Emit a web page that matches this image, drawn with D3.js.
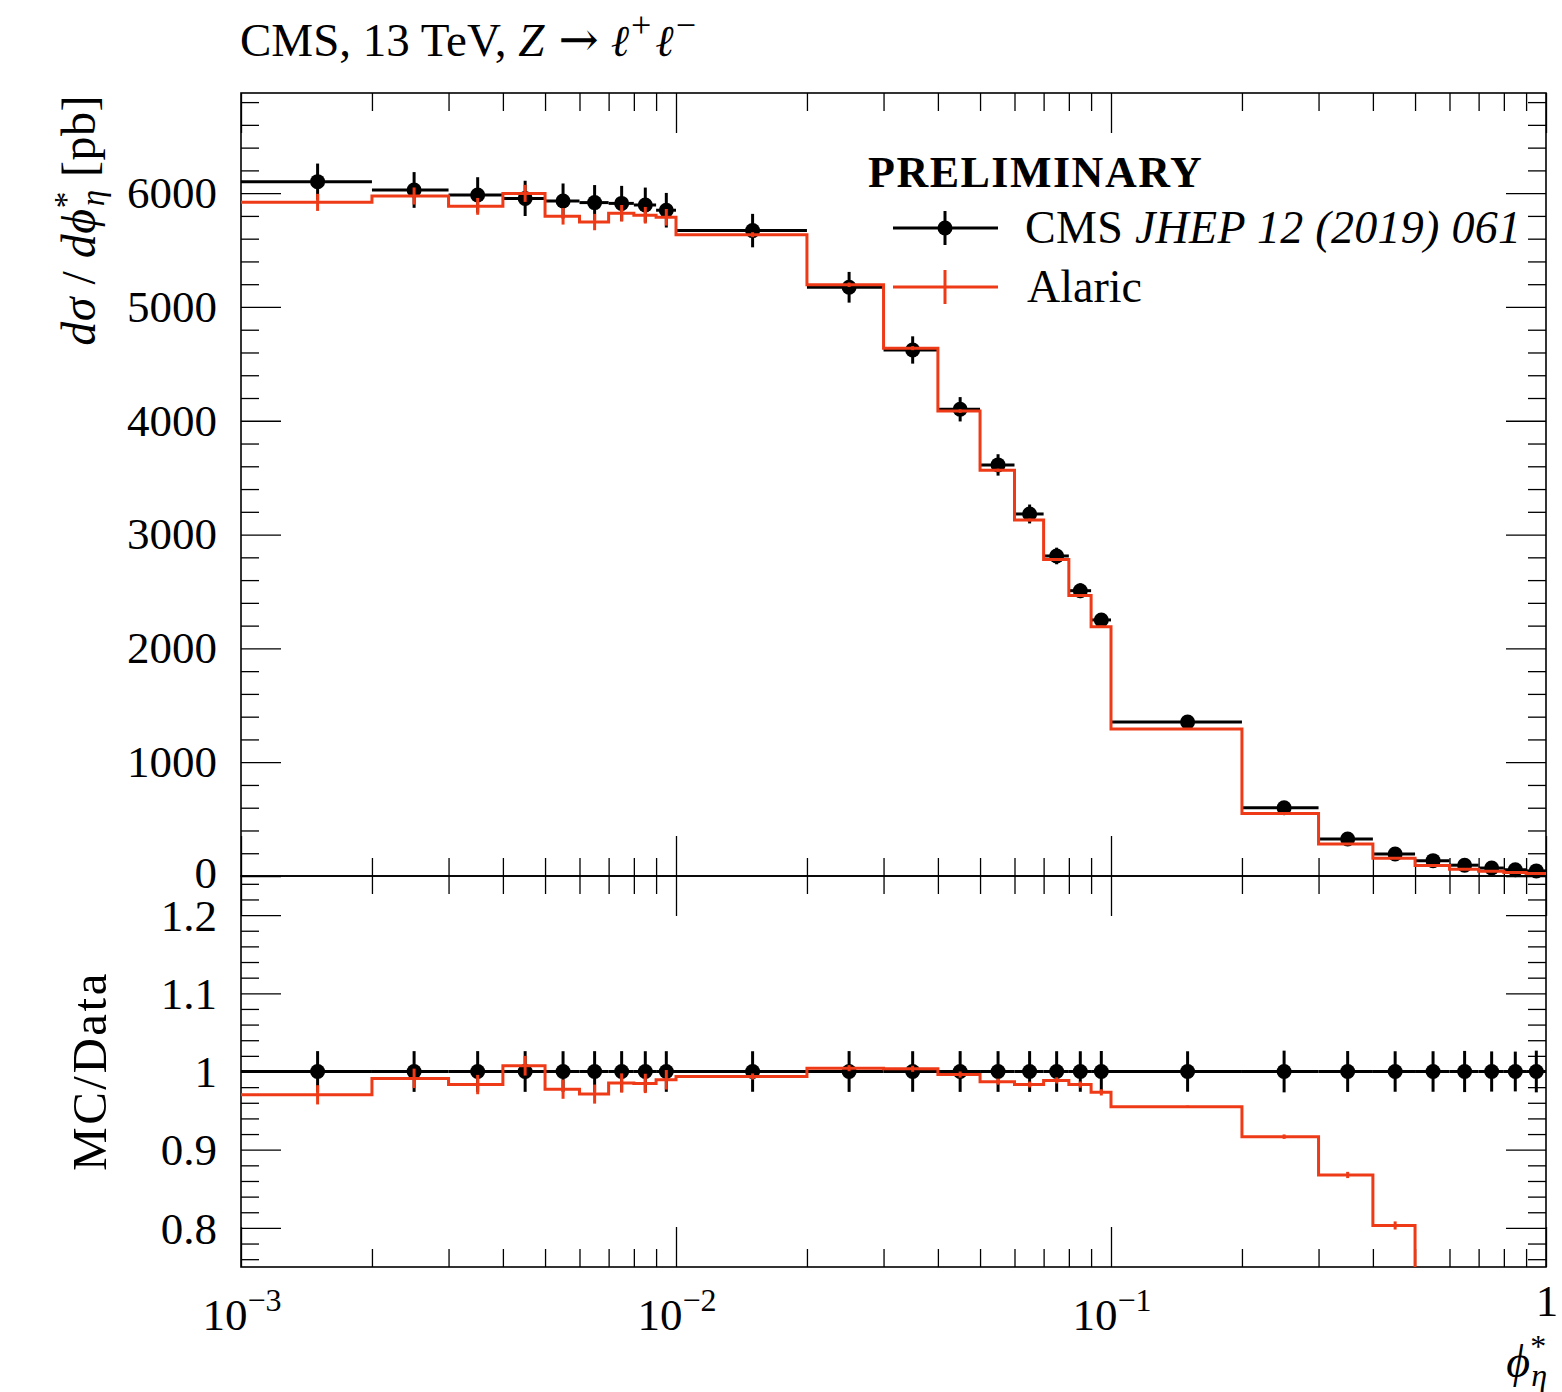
<!DOCTYPE html>
<html>
<head>
<meta charset="utf-8">
<script src="https://cdn.jsdelivr.net/npm/d3@7"></script>
<style>
  html, body { margin: 0; padding: 0; background: #fff; }
  svg text { font-family: "Liberation Serif", "DejaVu Serif", serif; fill: #000; }
</style>
</head>
<body>
<svg id="chart" width="1562" height="1392"></svg>
<script>
// phi*_eta bin edges
const binEdges = [0.001, 0.002, 0.003, 0.004, 0.005, 0.006, 0.007, 0.008, 0.009, 0.01,
                  0.02, 0.03, 0.04, 0.05, 0.06, 0.07, 0.08, 0.09, 0.1,
                  0.2, 0.3, 0.4, 0.5, 0.6, 0.7, 0.8, 0.9, 1.0];

// CMS measurement, dsigma/dphi* [pb], and its uncertainty
const cmsXsec    = [6101, 6028, 5984, 5954, 5931, 5917, 5910, 5896, 5850, 5671,
                    5173, 4622, 4101, 3612, 3181, 2812, 2507, 2250, 1353,
                    600, 325, 193, 135, 95, 70, 55, 45];
const cmsXsecErr = [159, 157, 156, 155, 154, 154, 154, 153, 152, 147,
                    135, 120, 107, 94, 83, 73, 65, 59, 35,
                    16, 8.5, 5, 3.5, 2.5, 1.8, 1.4, 1.2];

// Alaric prediction and its statistical uncertainty
const alaricXsec    = [5919, 5975, 5884, 5998, 5797, 5746, 5823, 5806, 5788, 5635,
                       5195, 4638, 4085, 3565, 3128, 2780, 2465, 2190, 1292,
                       550, 282, 155, 92, 60, 41, 30, 22];
const alaricXsecErr = [75, 75, 74, 75, 73, 72, 73, 73, 73, 22,
                       20, 18, 16, 14, 12, 11, 10, 9, 2,
                       1.7, 1.3, 1, 0.8, 0.6, 0.5, 0.4, 0.3];

// axis ticks and labels
const yTicks = [0, 1000, 2000, 3000, 4000, 5000, 6000];
const yTickLabels = ["0", "1000", "2000", "3000", "4000", "5000", "6000"];
const ratioTicks = [0.8, 0.9, 1, 1.1, 1.2];
const ratioTickLabels = ["0.8", "0.9", "1", "1.1", "1.2"];
const xDecades = [0.001, 0.01, 0.1, 1];
const xDecadeExp = ["−3", "−2", "−1", ""];

const RED = "#ee3a16";

// layout
const L = 241, R = 1546, T1 = 93, B1 = 876, B2 = 1267;

const svg = d3.select("#chart");

const x = d3.scaleLog().domain([1e-3, 1]).range([L, R]);
const y1 = d3.scaleLinear().domain([0, 6880]).range([B1, T1]);
const y2 = d3.scaleLinear().domain([0.75, 1.25]).range([B2, B1]);

const bins = cmsXsec.map((v, i) => ({
  lo: binEdges[i], hi: binEdges[i + 1], mid: (binEdges[i] + binEdges[i + 1]) / 2,
  data: v, err: cmsXsecErr[i], mc: alaricXsec[i], mcErr: alaricXsecErr[i]
}));

// minor tick positions
const xMinor = [];
xDecades.slice(0, 3).forEach(d => { for (let k = 2; k <= 9; k++) xMinor.push(d * k); });
const yMinor = d3.range(200, 6880, 200).filter(v => v % 1000 !== 0);
const ratioMinor = d3.range(38, 63).map(v => v / 50).filter(v => Math.abs(v * 10 - Math.round(v * 10)) > 1e-6);

const TICK_MAJ = 40, TICK_MIN = 18;

function styleAxis(g) {
  g.select(".domain").remove();
  g.selectAll(".tick line").attr("stroke", "#000").attr("stroke-width", 1.3);
}

function addAxis(axisGen, tx, ty, values, size) {
  const g = svg.append("g").attr("transform", `translate(${tx},${ty})`)
    .call(axisGen.tickValues(values).tickSize(-size).tickFormat(""));
  styleAxis(g);
  g.selectAll("text").remove();
  return g;
}

// ---- tick marks, both panels ----
// upper panel y
addAxis(d3.axisLeft(y1), L, 0, yTicks, TICK_MAJ);
addAxis(d3.axisLeft(y1), L, 0, yMinor, TICK_MIN);
addAxis(d3.axisRight(y1), R, 0, yTicks, TICK_MAJ);
addAxis(d3.axisRight(y1), R, 0, yMinor, TICK_MIN);
// upper panel x
addAxis(d3.axisTop(x), 0, T1, xDecades, TICK_MAJ);
addAxis(d3.axisTop(x), 0, T1, xMinor, TICK_MIN);
addAxis(d3.axisBottom(x), 0, B1, xDecades, TICK_MAJ);
addAxis(d3.axisBottom(x), 0, B1, xMinor, TICK_MIN);
// ratio panel y
addAxis(d3.axisLeft(y2), L, 0, ratioTicks, TICK_MAJ);
addAxis(d3.axisLeft(y2), L, 0, ratioMinor, TICK_MIN);
addAxis(d3.axisRight(y2), R, 0, ratioTicks, TICK_MAJ);
addAxis(d3.axisRight(y2), R, 0, ratioMinor, TICK_MIN);
// ratio panel x
addAxis(d3.axisTop(x), 0, B1, xDecades, TICK_MAJ);
addAxis(d3.axisTop(x), 0, B1, xMinor, TICK_MIN);
addAxis(d3.axisBottom(x), 0, B2, xDecades, TICK_MAJ);
addAxis(d3.axisBottom(x), 0, B2, xMinor, TICK_MIN);

// ---- tick labels ----
const FS = 45;
svg.append("g").selectAll("text").data(yTicks).join("text")
  .attr("x", L - 24).attr("y", d => y1(d)).attr("dy", d => d === 0 ? "0.26em" : "0.33em")
  .attr("text-anchor", "end").attr("font-size", FS)
  .text((d, i) => yTickLabels[i]);

svg.append("g").selectAll("text").data(ratioTicks).join("text")
  .attr("x", L - 24).attr("y", d => y2(d)).attr("dy", "0.35em")
  .attr("text-anchor", "end").attr("font-size", FS)
  .text((d, i) => ratioTickLabels[i]);

const xl = svg.append("g").selectAll("text").data(xDecades).join("text")
  .attr("x", d => x(d) + 1).attr("y", 1330)
  .attr("text-anchor", "middle").attr("font-size", FS);
xl.each(function (d, i) {
  const t = d3.select(this);
  if (xDecadeExp[i]) {
    t.append("tspan").text("10");
    t.append("tspan").attr("dy", -19).attr("font-size", 32).text(xDecadeExp[i]);
  } else {
    t.attr("y", 1316).append("tspan").text("1");
  }
});

// ---- frames ----
svg.append("rect").attr("x", L).attr("y", T1).attr("width", R - L).attr("height", B1 - T1)
  .attr("fill", "none").attr("stroke", "#000").attr("stroke-width", 1.6);
svg.append("rect").attr("x", L).attr("y", B1).attr("width", R - L).attr("height", B2 - B1)
  .attr("fill", "none").attr("stroke", "#000").attr("stroke-width", 1.6);

// ---- upper panel: cross section ----
const upper = svg.append("g");

upper.selectAll("line.xerr").data(bins).join("line").attr("class", "xerr")
  .attr("x1", d => x(d.lo)).attr("x2", d => x(d.hi))
  .attr("y1", d => y1(d.data)).attr("y2", d => y1(d.data))
  .attr("stroke", "#000").attr("stroke-width", 3);
upper.selectAll("line.yerr").data(bins).join("line").attr("class", "yerr")
  .attr("x1", d => x(d.mid)).attr("x2", d => x(d.mid))
  .attr("y1", d => y1(d.data - d.err)).attr("y2", d => y1(d.data + d.err))
  .attr("stroke", "#000").attr("stroke-width", 3);
upper.selectAll("circle").data(bins).join("circle")
  .attr("cx", d => x(d.mid)).attr("cy", d => y1(d.data)).attr("r", 7.5).attr("fill", "#000");

const stepLine = d3.line().curve(d3.curveStepAfter);
const mcPts = bins.map(d => [x(d.lo), y1(d.mc)]);
mcPts.push([x(bins[bins.length - 1].hi), y1(bins[bins.length - 1].mc)]);
upper.append("path").attr("d", stepLine(mcPts))
  .attr("fill", "none").attr("stroke", RED).attr("stroke-width", 3);
upper.selectAll("line.mcerr").data(bins).join("line").attr("class", "mcerr")
  .attr("x1", d => x(d.mid)).attr("x2", d => x(d.mid))
  .attr("y1", d => y1(d.mc - d.mcErr)).attr("y2", d => y1(d.mc + d.mcErr))
  .attr("stroke", RED).attr("stroke-width", 3);

// ---- lower panel: MC / Data ----
svg.append("clipPath").attr("id", "ratioClip").append("rect")
  .attr("x", L).attr("y", B1).attr("width", R - L).attr("height", B2 - B1);
const rat = svg.append("g").attr("clip-path", "url(#ratioClip)");

rat.selectAll("line.xerr").data(bins).join("line").attr("class", "xerr")
  .attr("x1", d => x(d.lo)).attr("x2", d => x(d.hi))
  .attr("y1", y2(1)).attr("y2", y2(1))
  .attr("stroke", "#000").attr("stroke-width", 3);
rat.selectAll("line.yerr").data(bins).join("line").attr("class", "yerr")
  .attr("x1", d => x(d.mid)).attr("x2", d => x(d.mid))
  .attr("y1", d => y2(1 - d.err / d.data)).attr("y2", d => y2(1 + d.err / d.data))
  .attr("stroke", "#000").attr("stroke-width", 3);
rat.selectAll("circle").data(bins).join("circle")
  .attr("cx", d => x(d.mid)).attr("cy", y2(1)).attr("r", 7.5).attr("fill", "#000");

const rPts = bins.map(d => [x(d.lo), y2(d.mc / d.data)]);
rPts.push([x(bins[bins.length - 1].hi), y2(bins[bins.length - 1].mc / bins[bins.length - 1].data)]);
rat.append("path").attr("d", stepLine(rPts))
  .attr("fill", "none").attr("stroke", RED).attr("stroke-width", 3);
rat.selectAll("line.mcerr").data(bins).join("line").attr("class", "mcerr")
  .attr("x1", d => x(d.mid)).attr("x2", d => x(d.mid))
  .attr("y1", d => y2((d.mc - d.mcErr) / d.data)).attr("y2", d => y2((d.mc + d.mcErr) / d.data))
  .attr("stroke", RED).attr("stroke-width", 3);

// ---- title ----
const title = svg.append("text").attr("x", L - 1).attr("y", 56).attr("font-size", 47);
title.append("tspan").text("CMS, 13 TeV, ");
title.append("tspan").attr("font-style", "italic").text("Z");
title.append("tspan").attr("dx", 14).attr("font-family", "DejaVu Serif").attr("font-size", 48).text("→");
title.append("tspan").attr("dx", 12).attr("font-family", "DejaVu Serif").attr("font-style", "italic")
  .attr("font-size", 44).text("ℓ");
title.append("tspan").attr("dy", -19).attr("dx", 2).attr("font-size", 36).text("+");
title.append("tspan").attr("dy", 19).attr("dx", 4).attr("font-family", "DejaVu Serif").attr("font-style", "italic")
  .attr("font-size", 44).text("ℓ");
title.append("tspan").attr("dy", -19).attr("dx", 2).attr("font-size", 36).text("−");

// ---- legend ----
svg.append("text").attr("x", 868).attr("y", 187).attr("font-size", 44)
  .attr("letter-spacing", 1.5).attr("font-weight", "bold").text("PRELIMINARY");

const leg = svg.append("g");
leg.append("line").attr("x1", 893).attr("x2", 998).attr("y1", 228).attr("y2", 228)
  .attr("stroke", "#000").attr("stroke-width", 3);
leg.append("line").attr("x1", 945).attr("x2", 945).attr("y1", 211).attr("y2", 245)
  .attr("stroke", "#000").attr("stroke-width", 3);
leg.append("circle").attr("cx", 945).attr("cy", 228).attr("r", 7.5).attr("fill", "#000");
const l1 = leg.append("text").attr("x", 1025).attr("y", 243).attr("font-size", 46)
  .attr("letter-spacing", 0.3);
l1.append("tspan").text("CMS ");
l1.append("tspan").attr("font-style", "italic").text("JHEP 12 (2019) 061");

leg.append("line").attr("x1", 893).attr("x2", 998).attr("y1", 287).attr("y2", 287)
  .attr("stroke", RED).attr("stroke-width", 3);
leg.append("line").attr("x1", 945).attr("x2", 945).attr("y1", 270).attr("y2", 304)
  .attr("stroke", RED).attr("stroke-width", 3);
leg.append("text").attr("x", 1027).attr("y", 302).attr("font-size", 46).text("Alaric");

// ---- axis titles ----
const yl = svg.append("text").attr("transform", "translate(95,95) rotate(-90)")
  .attr("text-anchor", "end").attr("font-size", 48).attr("letter-spacing", 0.5);
yl.append("tspan").attr("font-style", "italic").text("dσ");
yl.append("tspan").text(" / ");
yl.append("tspan").attr("font-style", "italic").text("dϕ");
yl.append("tspan").attr("dy", -18).attr("font-size", 33).text("*");
yl.append("tspan").attr("dx", -15).attr("dy", 27).attr("font-size", 33).attr("font-style", "italic").text("η");
yl.append("tspan").attr("dy", -9).text(" [pb]");

svg.append("text").attr("transform", "translate(106,1071) rotate(-90)")
  .attr("text-anchor", "middle").attr("font-size", 49).attr("letter-spacing", 2.5).text("MC/Data");

const xt = svg.append("text").attr("x", 1547).attr("y", 1377)
  .attr("text-anchor", "end").attr("font-size", 46);
xt.append("tspan").attr("font-style", "italic").text("ϕ");
xt.append("tspan").attr("dy", -20).attr("font-size", 32).text("*");
xt.append("tspan").attr("dx", -15).attr("dy", 29).attr("font-size", 32).attr("font-style", "italic").text("η");
</script>
</body>
</html>
